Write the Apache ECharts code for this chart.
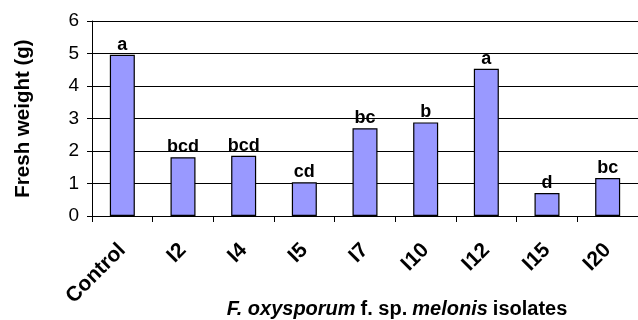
<!DOCTYPE html>
<html>
<head>
<meta charset="utf-8">
<script src="https://cdn.jsdelivr.net/npm/echarts@6/dist/echarts.min.js"></script>
<style>
html,body{margin:0;padding:0;background:#fff;}
#chart{width:638px;height:320px;}
</style>
</head>
<body>
<div id="chart"></div>
<script>
const categories = ['Control', 'I2', 'I4', 'I5', 'I7', 'I10', 'I12', 'I15', 'I20'];
const freshWeight = [4.96, 1.81, 1.85, 1.04, 2.70, 2.88, 4.53, 0.71, 1.17];
const letters = ['a', 'bcd', 'bcd', 'cd', 'bc', 'b', 'a', 'd', 'bc'];
const yTicks = [0, 1, 2, 3, 4, 5, 6];

const chart = echarts.init(document.getElementById('chart'), null, {renderer: 'canvas'});
const font = 'Liberation Sans, Arial, sans-serif';
chart.setOption({
  animation: false,
  grid: {left: 92, width: 554, top: 21, height: 195, containLabel: false},
  xAxis: {
    type: 'category',
    data: categories,
    axisLine: {show: true, lineStyle: {color: '#000', width: 1}},
    axisTick: {show: true, alignWithLabel: false, length: 6, lineStyle: {color: '#000'}},
    axisLabel: {
      rotate: 45, margin: 31, interval: 0,
      fontFamily: font, fontWeight: 'bold', fontSize: 21, color: '#000'
    }
  },
  yAxis: {
    type: 'value',
    min: yTicks[0], max: yTicks[yTicks.length - 1], interval: 1,
    axisLine: {show: true, lineStyle: {color: '#000', width: 1}},
    axisTick: {show: true, length: 5, lineStyle: {color: '#000'}},
    axisLabel: {margin: 13, fontFamily: font, fontSize: 19, color: '#000'},
    splitLine: {show: true, lineStyle: {color: '#000', width: 1}},
    name: 'Fresh weight (g)',
    nameLocation: 'middle',
    nameGap: 58,
    nameTextStyle: {fontFamily: font, fontWeight: 'bold', fontSize: 20.5, color: '#000'}
  },
  title: {
    text: '{i|F. oxysporum} {n|f. sp.} {i|melonis} {n|isolates}',
    left: 397, top: 299, textAlign: 'center', padding: 0,
    textStyle: {
      rich: {
        i: {fontFamily: font, fontWeight: 'bold', fontStyle: 'italic', fontSize: 20, color: '#000'},
        n: {fontFamily: font, fontWeight: 'bold', fontSize: 20, color: '#000'}
      }
    }
  },
  series: [{
    type: 'bar',
    data: freshWeight,
    barWidth: 25,
    itemStyle: {color: '#9999FF', borderColor: '#000', borderWidth: 1.2},
    label: {
      show: true, position: 'top', distance: 1,
      formatter: p => letters[p.dataIndex],
      fontFamily: font, fontWeight: 'bold', fontSize: 18, color: '#000'
    }
  }]
});
</script>
</body>
</html>
